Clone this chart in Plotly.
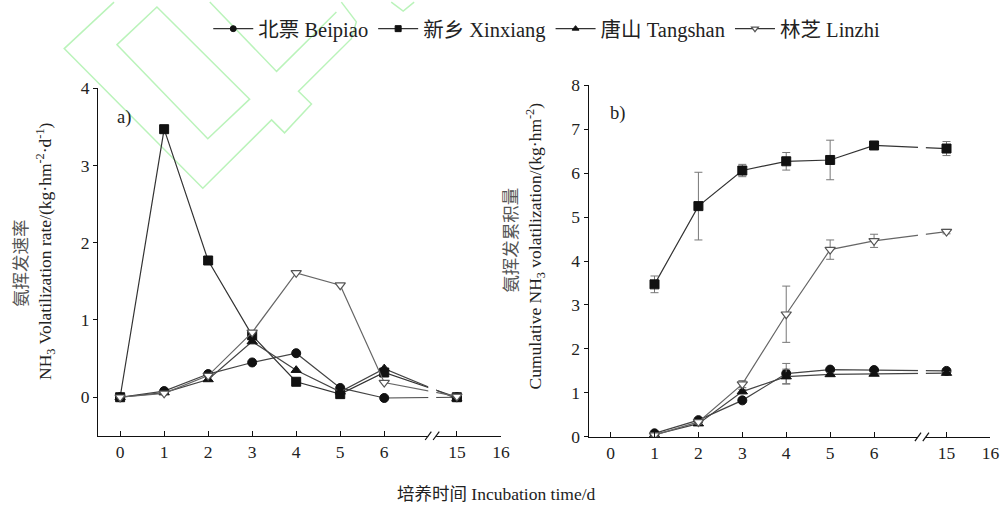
import plotly.graph_objects as go

W, H = 1003, 508

# ---- data ----
days_rate = [0, 1, 2, 3, 4, 5, 6, 15]
rate_beipiao = [0.0, 0.08, 0.30, 0.45, 0.57, 0.12, -0.01, 0.0]
rate_xinxiang = [0.0, 3.47, 1.77, 0.80, 0.20, 0.04, 0.32, 0.0]
rate_tangshan = [0.0, 0.06, 0.23, 0.72, 0.35, 0.07, 0.37, -0.02]
rate_linzhi = [0.0, 0.05, 0.28, 0.84, 1.61, 1.45, 0.19, 0.01]

days_cum = [1, 2, 3, 4, 5, 6, 15]
cum_beipiao = [0.08, 0.38, 0.83, 1.44, 1.53, 1.52, 1.50]
cum_xinxiang = [3.47, 5.25, 6.06, 6.27, 6.30, 6.63, 6.56]
cum_tangshan = [0.05, 0.30, 1.03, 1.37, 1.42, 1.43, 1.45]
cum_linzhi = [0.04, 0.34, 1.20, 2.79, 4.26, 4.46, 4.67]
err_beipiao = [0.03, 0.04, 0.05, 0.23, 0.05, 0.03, 0.03]
err_xinxiang = [0.19, 0.77, 0.14, 0.20, 0.45, 0.03, 0.16]
err_tangshan = [0.02, 0.04, 0.05, 0.17, 0.04, 0.03, 0.03]
err_linzhi = [0.03, 0.05, 0.08, 0.64, 0.22, 0.15, 0.05]

tick_days = [0, 1, 2, 3, 4, 5, 6, 15, 16]
tick_labels = ["0", "1", "2", "3", "4", "5", "6", "15", "16"]

names = ["北票 Beipiao", "新乡 Xinxiang", "唐山 Tangshan", "林芝 Linzhi"]


# broken axis mapping (6 | 15)
def pos(d):
    return d if d <= 6 else 7.65 + (d - 15)


BREAK0, BREAK1 = 7.0, 7.18

styles = [
    dict(symbol="circle", color="#111111", line=dict(color="#111111", width=1)),
    dict(symbol="square", color="#111111", line=dict(color="#111111", width=1)),
    dict(symbol="triangle-up", color="#111111", line=dict(color="#111111", width=1)),
    dict(symbol="triangle-down", color="white", line=dict(color="#555555", width=1.2)),
]
line_cols = ["#444444", "#333333", "#444444", "#666666"]

fig = go.Figure()

rates = [rate_beipiao, rate_xinxiang, rate_tangshan, rate_linzhi]
cums = [cum_beipiao, cum_xinxiang, cum_tangshan, cum_linzhi]
errs = [err_beipiao, err_xinxiang, err_tangshan, err_linzhi]

for i in range(4):
    fig.add_trace(go.Scatter(
        x=[pos(d) for d in days_rate], y=rates[i], mode="lines+markers",
        name=names[i], legendgroup=names[i], showlegend=False,
        line=dict(color=line_cols[i], width=1.2),
        marker=dict(size=9, **styles[i]),
        xaxis="x", yaxis="y"))
for i in range(4):
    fig.add_trace(go.Scatter(
        x=[pos(d) for d in days_cum], y=cums[i], mode="lines+markers",
        name=names[i], legendgroup=names[i], showlegend=False,
        line=dict(color=line_cols[i], width=1.2),
        marker=dict(size=9, **styles[i]),
        error_y=dict(type="data", array=errs[i], visible=True,
                     color="#777777", thickness=1, width=4),
        xaxis="x2", yaxis="y2"))
# legend-only entries with small markers (as in the reference legend)
for i in range(4):
    fig.add_trace(go.Scatter(
        x=[None], y=[None], mode="lines+markers", name=names[i],
        legendgroup=names[i], showlegend=True,
        line=dict(color="#333333", width=1.2),
        marker=dict(size=6, **styles[i]),
        xaxis="x", yaxis="y"))

font_main = "Liberation Serif, Times New Roman, Noto Sans CJK SC, serif"
txt = "#222222"

# the page is photographed slightly scaled; these map target picture pixels
# to figure paper coordinates
SX, OX = 0.994, 2.6
SY, OY = 0.970, 8.0


def px2paper_x(p):
    return ((p - OX) / SX) / W


def px2paper_y(p):
    return 1 - ((p - OY) / SY) / H


TF = 17.5  # tick font

xcommon = dict(range=[-0.5, 8.65], tickmode="array",
               tickvals=[pos(d) for d in tick_days], ticktext=tick_labels,
               showline=True, linecolor="#111", linewidth=1.2,
               ticks="inside", ticklen=5, tickcolor="#111", tickwidth=1,
               showgrid=False, zeroline=False,
               tickfont=dict(family=font_main, size=TF, color=txt))
ycommon = dict(showline=True, linecolor="#111", linewidth=1.2,
               ticks="outside", ticklen=4, tickcolor="#111", tickwidth=1,
               showgrid=False, zeroline=False,
               tickfont=dict(family=font_main, size=TF, color=txt))

fig.update_layout(
    width=W, height=H,
    margin=dict(l=0, r=0, t=0, b=0),
    paper_bgcolor="white", plot_bgcolor="white",
    font=dict(family=font_main, color=txt),
    xaxis=dict(domain=[px2paper_x(101), px2paper_x(505)], anchor="y", **xcommon),
    yaxis=dict(domain=[px2paper_y(438), px2paper_y(87)], anchor="x",
               range=[-0.5, 4], tickvals=[0, 1, 2, 3, 4], **ycommon),
    xaxis2=dict(domain=[px2paper_x(593), px2paper_x(996)], anchor="y2", **xcommon),
    yaxis2=dict(domain=[px2paper_y(439), px2paper_y(84)], anchor="x2",
                range=[0, 8], tickvals=list(range(9)), **ycommon),
    legend=dict(orientation="h", x=px2paper_x(551), xanchor="center", y=px2paper_y(27),
                yanchor="middle", font=dict(family=font_main, size=20.5, color=txt),
                itemwidth=40, bgcolor="rgba(0,0,0,0)", tracegroupgap=0),
    showlegend=True,
)

shapes = []
# watermark outlines (light green)
wm = "rgba(140,235,140,0.6)"


def path(pts, close=False):
    s = "M " + " L ".join(f"{px2paper_x(x)},{px2paper_y(y)}" for x, y in pts)
    return s + (" Z" if close else "")


wm_paths = [
    ([(117, 0), (67, 47), (206, 188), (275, 119), (288, 132), (315, 103),
      (302, 90), (355, 37), (360, 20), (345, 0)], False),
    ([(120, 43), (160, 5), (253, 98), (211, 138)], True),
    ([(213, 0), (280, 70), (340, 10)], False),
    ([(395, 0), (407, 9), (418, 0)], False),
]
for pts, cl in wm_paths:
    shapes.append(dict(type="path", path=path(pts, cl), xref="paper", yref="paper",
                       line=dict(color=wm, width=1.5), layer="below"))

# axis breaks
for xa, ya in [("x", "y"), ("x2", "y2")]:
    shapes.append(dict(type="rect", xref=xa, yref=f"{ya} domain",
                       x0=BREAK0, x1=BREAK1, y0=-0.02, y1=1.0,
                       fillcolor="white", line=dict(width=0), layer="above"))
    for bx in (BREAK0 - 0.02, BREAK1 - 0.02):
        shapes.append(dict(type="line", xref=xa, yref=f"{ya} domain",
                           x0=bx - 0.05, x1=bx + 0.09, y0=-0.012, y1=0.012,
                           line=dict(color="#111", width=1.2), layer="above"))
fig.update_layout(shapes=shapes)

ann = []
ann.append(dict(text="a)", x=px2paper_x(118), y=px2paper_y(117), xref="paper", yref="paper",
                xanchor="left", yanchor="middle", showarrow=False,
                font=dict(family=font_main, size=18.5, color=txt)))
ann.append(dict(text="b)", x=px2paper_x(612), y=px2paper_y(113), xref="paper", yref="paper",
                xanchor="left", yanchor="middle", showarrow=False,
                font=dict(family=font_main, size=18.5, color=txt)))
# y titles
ann.append(dict(text="氨挥发速率", x=px2paper_x(22), y=px2paper_y(263), xref="paper", yref="paper",
                textangle=-90, showarrow=False, xanchor="center", yanchor="middle",
                font=dict(family="Noto Sans CJK SC", size=17.5, color="#555555")))
ann.append(dict(text="NH<sub>3</sub> Volatilization rate/(kg·hm<sup>-2</sup>·d<sup>-1</sup>)",
                x=px2paper_x(48), y=px2paper_y(252), xref="paper", yref="paper",
                textangle=-90, showarrow=False, xanchor="center", yanchor="middle",
                font=dict(family=font_main, size=17.5, color=txt)))
ann.append(dict(text="氨挥发累积量", x=px2paper_x(514), y=px2paper_y(240), xref="paper", yref="paper",
                textangle=-90, showarrow=False, xanchor="center", yanchor="middle",
                font=dict(family="Noto Sans CJK SC", size=17.5, color="#555555")))
ann.append(dict(text="Cumulative NH<sub>3</sub> volatilization/(kg·hm<sup>-2</sup>)",
                x=px2paper_x(540), y=px2paper_y(246), xref="paper", yref="paper",
                textangle=-90, showarrow=False, xanchor="center", yanchor="middle",
                font=dict(family=font_main, size=17.5, color=txt)))
ann.append(dict(text="培养时间 Incubation time/d", x=px2paper_x(501), y=px2paper_y(497),
                xref="paper", yref="paper", showarrow=False, xanchor="center", yanchor="middle",
                font=dict(family=font_main, size=17.5, color=txt)))
fig.update_layout(annotations=ann)

fig.write_html("out.html")
